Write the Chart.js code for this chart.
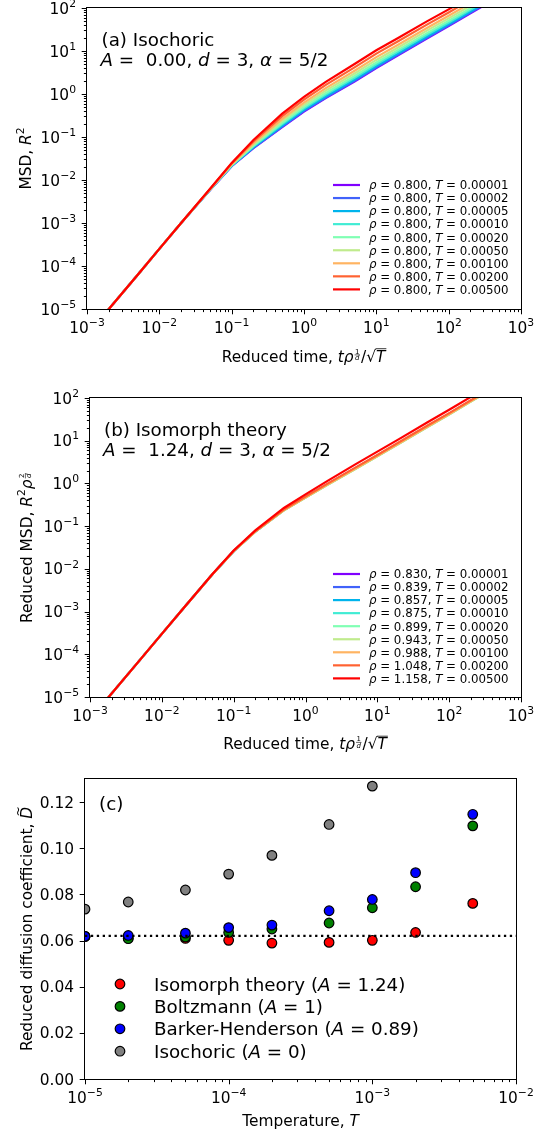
<!DOCTYPE html>
<html>
<head>
<meta charset="utf-8">
<script src="https://cdn.jsdelivr.net/npm/chart.js@4.4.0/dist/chart.umd.min.js"></script>
<style>
  html, body { margin: 0; padding: 0; background: #fff; }
  #wrap { position: relative; width: 549px; height: 1133px; overflow: hidden; }
  canvas { position: absolute; left: 0; }
</style>
</head>
<body>
<div id="wrap">
  <canvas id="panelA" width="549" height="370" style="top:0px"></canvas>
  <canvas id="panelB" width="549" height="390" style="top:370px"></canvas>
  <canvas id="panelC" width="549" height="373" style="top:760px"></canvas>
</div>
<script>
// reduced time grid for panels (a) and (b)
var times = [0.0015, 0.005, 0.01, 0.02, 0.05, 0.1, 0.2, 0.5, 1, 2, 5, 10, 20, 50, 100, 200, 500];
var temps = ['0.00001', '0.00002', '0.00005', '0.00010', '0.00020', '0.00050', '0.00100', '0.00200', '0.00500'];
var rhoA = ['0.800', '0.800', '0.800', '0.800', '0.800', '0.800', '0.800', '0.800', '0.800'];
var rhoB = ['0.830', '0.839', '0.857', '0.875', '0.899', '0.943', '0.988', '1.048', '1.158'];
var colors = ['#8000ff', '#4062fa', '#00b4ec', '#40ecd4', '#80ffb4', '#c0eb8d', '#ffb462', '#ff6232', '#ff0000'];

// (a) isochoric MSD, one row per temperature
var msdIsochoric = [
  [5.6e-6, 6.2e-5, 2.5e-4, 1.0e-3, 5.80e-3, 0.0210, 0.0550, 0.170, 0.390, 0.800, 1.95, 4.00, 7.90, 19.5, 38.0, 75, 185],
  [5.6e-6, 6.2e-5, 2.5e-4, 1.0e-3, 5.82e-3, 0.0212, 0.0560, 0.175, 0.404, 0.831, 2.03, 4.17, 8.23, 20.3, 39.5, 78, 192],
  [5.6e-6, 6.2e-5, 2.5e-4, 1.0e-3, 5.85e-3, 0.0214, 0.0579, 0.185, 0.428, 0.887, 2.18, 4.48, 8.82, 21.7, 42.2, 83, 206],
  [5.6e-6, 6.2e-5, 2.5e-4, 1.0e-3, 5.89e-3, 0.0218, 0.0604, 0.199, 0.462, 0.966, 2.39, 4.92, 9.67, 23.8, 46.1, 91, 224],
  [5.6e-6, 6.2e-5, 2.5e-4, 1.0e-3, 5.93e-3, 0.0222, 0.0631, 0.213, 0.500, 1.053, 2.62, 5.40, 10.6, 26.0, 50.4, 99, 245],
  [5.6e-6, 6.2e-5, 2.5e-4, 1.0e-3, 5.99e-3, 0.0227, 0.0673, 0.237, 0.560, 1.196, 3.00, 6.20, 12.1, 29.7, 57.3, 113, 279],
  [5.6e-6, 6.2e-5, 2.5e-4, 1.0e-3, 6.04e-3, 0.0234, 0.0720, 0.265, 0.633, 1.369, 3.47, 7.20, 14.0, 34.2, 65.9, 130, 321],
  [5.6e-6, 6.2e-5, 2.5e-4, 1.0e-3, 6.13e-3, 0.0242, 0.0785, 0.306, 0.739, 1.628, 4.17, 8.69, 16.9, 41.0, 78.7, 155, 383],
  [5.6e-6, 6.2e-5, 2.5e-4, 1.0e-3, 6.20e-3, 0.0250, 0.0850, 0.350, 0.860, 1.920, 5.00, 10.4, 20.1, 48.8, 93.0, 184, 453]
];
// (b) isomorph-scaled MSD
var msdIsomorph = [
  [6.8e-6, 7.5e-5, 3.0e-4, 1.2e-3, 7.30e-3, 0.0260, 0.0750, 0.240, 0.480, 0.950, 2.30, 4.50, 8.90, 22.0, 43.0, 86.0, 215],
  [6.8e-6, 7.5e-5, 3.0e-4, 1.2e-3, 7.30e-3, 0.0260, 0.0748, 0.239, 0.477, 0.942, 2.28, 4.46, 8.81, 21.8, 42.6, 85.1, 213],
  [6.8e-6, 7.5e-5, 3.0e-4, 1.2e-3, 7.29e-3, 0.0259, 0.0747, 0.238, 0.475, 0.938, 2.27, 4.43, 8.77, 21.7, 42.4, 84.7, 212],
  [6.8e-6, 7.5e-5, 3.0e-4, 1.2e-3, 7.29e-3, 0.0259, 0.0743, 0.236, 0.470, 0.926, 2.23, 4.37, 8.63, 21.3, 41.7, 83.4, 209],
  [6.8e-6, 7.5e-5, 3.0e-4, 1.2e-3, 7.28e-3, 0.0258, 0.0740, 0.235, 0.465, 0.914, 2.20, 4.30, 8.50, 21.0, 41.1, 82.1, 205],
  [6.8e-6, 7.5e-5, 3.0e-4, 1.2e-3, 7.29e-3, 0.0258, 0.0741, 0.235, 0.466, 0.918, 2.21, 4.32, 8.54, 21.1, 41.3, 82.6, 206],
  [6.8e-6, 7.5e-5, 3.0e-4, 1.2e-3, 7.29e-3, 0.0259, 0.0743, 0.236, 0.470, 0.926, 2.23, 4.37, 8.63, 21.3, 41.7, 83.4, 209],
  [6.8e-6, 7.5e-5, 3.0e-4, 1.2e-3, 7.31e-3, 0.0261, 0.0757, 0.244, 0.490, 0.974, 2.37, 4.64, 9.17, 22.7, 44.3, 88.6, 221],
  [6.8e-6, 7.5e-5, 3.0e-4, 1.2e-3, 7.38e-3, 0.0268, 0.0798, 0.266, 0.555, 1.130, 2.83, 5.54, 10.9, 27.1, 52.9, 106, 264]
];

// (c) reduced diffusion coefficient vs temperature
var tempValues = [1e-5, 2e-5, 5e-5, 1e-4, 2e-4, 5e-4, 1e-3, 2e-3, 5e-3];
var dIsomorph = [0.0618, 0.0610, 0.0609, 0.0601, 0.0589, 0.0592, 0.0601, 0.0635, 0.0761];
var dBoltzmann = [0.0618, 0.0608, 0.0615, 0.0635, 0.0650, 0.0676, 0.0742, 0.0833, 0.1097];
var dBarker = [0.0618, 0.0622, 0.0632, 0.0656, 0.0667, 0.0729, 0.0778, 0.0894, 0.1147];
var dIsochoric = [0.0736, 0.0767, 0.0819, 0.0888, 0.0969, 0.1103, 0.1269, null, null];
var dReference = 0.062;

var timeTicks = [1e-3, 1e-2, 1e-1, 1, 10, 100, 1000];
var msdTicks = [1e-5, 1e-4, 1e-3, 1e-2, 1e-1, 1, 10, 100];
var tempTicks = [1e-5, 1e-4, 1e-3, 1e-2];
var dTicks = [0, 0.02, 0.04, 0.06, 0.08, 0.10, 0.12];

var LABEL = 15.4;   // tick and axis label size
var BIG = 18.3;     // panel captions, legend of (c)
var SMALL = 11.8;   // legends of (a), (b)

function powParts(v) {
  var e = Math.round(Math.log10(v));
  return ['10', { t: String(e).replace('-', '\u2212'), sup: true }];
}
function fixedParts(v) { return [v.toFixed(2)]; }

// majors plus 2..9 minors per decade
function logTicks(majors) {
  var out = [];
  majors.forEach(function (m, i) {
    out.push({ value: m, major: true });
    if (i < majors.length - 1) {
      for (var k = 2; k <= 9; k++) out.push({ value: m * k, major: false });
    }
  });
  return out;
}

function fnt(size, it) { return (it ? 'italic ' : '') + size + 'px "DejaVu Sans"'; }

function partWidth(ctx, p, size) {
  if (p.frac) {
    ctx.font = fnt(size * 0.45, true);
    return Math.max(ctx.measureText(p.frac[0]).width, ctx.measureText(p.frac[1]).width) + 3;
  }
  if (p.root) {
    ctx.font = fnt(size, false);
    var w = ctx.measureText('\u221a').width;
    ctx.font = fnt(size, true);
    return w + ctx.measureText(p.root).width + 1;
  }
  ctx.font = fnt(p.sup ? size * 0.7 : size, p.i);
  return ctx.measureText(p.t).width;
}

// draws math-ish text: strings, {t,i}, {t,sup}, {frac:[n,d]}, {root}, {t,tilde}
function drawRich(ctx, parts, x, y, size, align, rotate) {
  parts = parts.map(function (p) { return typeof p === 'string' ? { t: p } : p; });
  var widths = parts.map(function (p) { return partWidth(ctx, p, size); });
  var total = widths.reduce(function (a, b) { return a + b; }, 0);
  ctx.save();
  ctx.translate(x, y);
  if (rotate) ctx.rotate(-Math.PI / 2);
  ctx.fillStyle = '#000';
  ctx.strokeStyle = '#000';
  ctx.textBaseline = 'alphabetic';
  var cx = align === 'center' ? -total / 2 : (align === 'right' ? -total : 0);
  parts.forEach(function (p, k) {
    var w = widths[k];
    ctx.textAlign = 'left';
    if (p.frac) {
      ctx.textAlign = 'center';
      ctx.font = fnt(size * 0.45, false);
      ctx.fillText(p.frac[0], cx + w / 2, -size * 0.5);
      ctx.font = fnt(size * 0.45, true);
      ctx.fillText(p.frac[1], cx + w / 2, -size * 0.08);
      ctx.lineWidth = 0.6;
      ctx.beginPath(); ctx.moveTo(cx + 1, -size * 0.43); ctx.lineTo(cx + w - 1, -size * 0.43); ctx.stroke();
    } else if (p.root) {
      ctx.font = fnt(size, false);
      var rw = ctx.measureText('\u221a').width;
      ctx.fillText('\u221a', cx, 0);
      ctx.font = fnt(size, true);
      ctx.fillText(p.root, cx + rw, 0);
      ctx.lineWidth = 0.8;
      ctx.beginPath(); ctx.moveTo(cx + rw - 0.5, -size * 0.83); ctx.lineTo(cx + w, -size * 0.83); ctx.stroke();
    } else {
      ctx.font = fnt(p.sup ? size * 0.7 : size, p.i);
      ctx.fillText(p.t, cx, p.sup ? -size * 0.45 : 0);
      if (p.tilde) {
        ctx.font = fnt(size * 0.8, false);
        var tw = ctx.measureText('~').width;
        ctx.fillText('~', cx + w * 0.62 - tw / 2, -size * 0.6);
      }
    }
    cx += w;
  });
  ctx.restore();
}

// outward ticks, tick labels and the box around the axes
function drawAxes(chart, xFmt, yFmt) {
  var ctx = chart.ctx, a = chart.chartArea;
  ctx.save();
  ctx.strokeStyle = '#000';
  ctx.lineWidth = 1;
  ['x', 'y'].forEach(function (id) {
    var s = chart.scales[id];
    s.ticks.forEach(function (t) {
      var len = t.major ? 5.3 : 3.1;
      var px = s.getPixelForValue(t.value);
      var p = Math.round(px) + 0.5;
      ctx.beginPath();
      if (id === 'x') { ctx.moveTo(p, a.bottom); ctx.lineTo(p, a.bottom + len); }
      else { ctx.moveTo(a.left, p); ctx.lineTo(a.left - len, p); }
      ctx.stroke();
      if (!t.major) return;
      if (id === 'x') drawRich(ctx, xFmt(t.value), px, a.bottom + 23.5, LABEL, 'center');
      else drawRich(ctx, yFmt(t.value), a.left - 11, px + 5.6, LABEL, 'right');
    });
  });
  ctx.strokeRect(Math.round(a.left) - 0.5, Math.round(a.top) - 0.5, Math.round(a.right - a.left) + 1, Math.round(a.bottom - a.top) + 1);
  ctx.restore();
}

function axis(type, min, max, ticks, size, isY) {
  return {
    type: type, min: min, max: max,
    grid: { display: false, drawTicks: false },
    border: { display: false },
    ticks: { display: false, autoSkip: false },
    afterBuildTicks: function (s) { s.ticks = ticks.map(function (t) { return { value: t.value, major: t.major }; }); },
    afterFit: function (s) {
      if (isY) s.width = size; else s.height = size;
      s.paddingLeft = s.paddingRight = s.paddingTop = s.paddingBottom = 0;
    }
  };
}

function lineLegend(ctx, rhos, y0) {
  temps.forEach(function (t, i) {
    var y = y0 + i * 13.05;
    ctx.save();
    ctx.strokeStyle = colors[i];
    ctx.lineWidth = 2.2;
    ctx.beginPath(); ctx.moveTo(333, y); ctx.lineTo(360, y); ctx.stroke();
    ctx.restore();
    drawRich(ctx, [{ t: '\u03c1', i: true }, ' = ' + rhos[i] + ', ', { t: 'T', i: true }, ' = ' + t], 369, y + 4.3, SMALL, 'left');
  });
}

function msdChart(id, series, box, texts) {
  return new Chart(document.getElementById(id), {
    type: 'line',
    data: {
      datasets: series.map(function (vals, i) {
        return {
          label: 'T = ' + temps[i],
          data: vals.map(function (v, j) { return { x: times[j], y: v }; }),
          borderColor: colors[i], borderWidth: 2.2, pointRadius: 0, tension: 0, fill: false,
          clip: 0, order: series.length - 1 - i
        };
      })
    },
    options: {
      responsive: false, animation: false, devicePixelRatio: 1,
      layout: { padding: { left: 0, right: 549 - box.right, top: box.top, bottom: 0 } },
      plugins: { legend: { display: false }, tooltip: { enabled: false } },
      scales: {
        x: axis('logarithmic', 1e-3, 1e3, logTicks(timeTicks), box.h - box.bottom, false),
        y: axis('logarithmic', 1e-5, 1e2, logTicks(msdTicks), box.left, true)
      }
    },
    plugins: [{ id: 'texts', afterDraw: function (chart) {
      drawAxes(chart, powParts, powParts);
      texts(chart.ctx, chart.chartArea);
    } }]
  });
}

var timeTitle = ['Reduced time, ', { t: 't', i: true }, { t: '\u03c1', i: true }, { frac: ['1', 'd'] }, '/', { root: 'T' }];

// panel (a)
msdChart('panelA', msdIsochoric, { h: 370, left: 87, right: 521, top: 8, bottom: 309 }, function (ctx, a) {
  drawRich(ctx, ['(a) Isochoric'], 101.5, 46, BIG, 'left');
  drawRich(ctx, [{ t: 'A', i: true }, ' =  0.00, ', { t: 'd', i: true }, ' = 3, ', { t: '\u03b1', i: true }, ' = 5/2'], 100.5, 66, BIG, 'left');
  lineLegend(ctx, rhoA, 185);
  drawRich(ctx, timeTitle, (a.left + a.right) / 2, a.bottom + 52.5, LABEL, 'center');
  drawRich(ctx, ['MSD, ', { t: 'R', i: true }, { t: '2', sup: true }], 30.5, (a.top + a.bottom) / 2, LABEL, 'center', true);
});

// panel (b)
msdChart('panelB', msdIsomorph, { h: 390, left: 90, right: 521, top: 28, bottom: 327 }, function (ctx, a) {
  drawRich(ctx, ['(b) Isomorph theory'], 104, 66, BIG, 'left');
  drawRich(ctx, [{ t: 'A', i: true }, ' =  1.24, ', { t: 'd', i: true }, ' = 3, ', { t: '\u03b1', i: true }, ' = 5/2'], 103, 86, BIG, 'left');
  lineLegend(ctx, rhoB, 204);
  drawRich(ctx, timeTitle, (a.left + a.right) / 2, a.bottom + 52, LABEL, 'center');
  drawRich(ctx, ['Reduced MSD, ', { t: 'R', i: true }, { t: '2', sup: true }, { t: '\u03c1', i: true }, { frac: ['2', 'd'] }], 32, (a.top + a.bottom) / 2, LABEL, 'center', true);
});

// panel (c)
var dSeries = [dIsomorph, dBoltzmann, dBarker, dIsochoric];
var dColors = ['#ff0000', '#008000', '#0000ff', '#808080'];
var dLabels = [
  ['Isomorph theory (', { t: 'A', i: true }, ' = 1.24)'],
  ['Boltzmann (', { t: 'A', i: true }, ' = 1)'],
  ['Barker-Henderson (', { t: 'A', i: true }, ' = 0.89)'],
  ['Isochoric (', { t: 'A', i: true }, ' = 0)']
];

var dDatasets = dSeries.map(function (vals, i) {
  return {
    label: 'D' + i,
    data: vals.map(function (v, j) { return { x: tempValues[j], y: v }; }),
    pointRadius: 4.8, pointBorderWidth: 1.2, pointBorderColor: '#000',
    pointBackgroundColor: dColors[i], showLine: false, clip: 0,
    order: dSeries.length - i
  };
});
dDatasets.push({
  type: 'line', label: 'ref',
  data: [{ x: tempTicks[0], y: dReference }, { x: tempTicks[tempTicks.length - 1], y: dReference }],
  borderColor: '#000', borderWidth: 2.2, borderDash: [2.3, 3.6], pointRadius: 0, clip: 0, order: 0
});

new Chart(document.getElementById('panelC'), {
  type: 'scatter',
  data: { datasets: dDatasets },
  options: {
    responsive: false, animation: false, devicePixelRatio: 1,
    layout: { padding: { left: 0, right: 549 - 516, top: 19, bottom: 0 } },
    plugins: { legend: { display: false }, tooltip: { enabled: false } },
    scales: {
      x: axis('logarithmic', 1e-5, 1e-2, logTicks(tempTicks), 373 - 319, false),
      y: axis('linear', 0, 0.13, dTicks.map(function (v) { return { value: v, major: true }; }), 85, true)
    }
  },
  plugins: [{ id: 'texts', afterDraw: function (chart) {
    var ctx = chart.ctx, a = chart.chartArea;
    drawAxes(chart, powParts, fixedParts);
    drawRich(ctx, ['(c)'], 99, 49.5, BIG, 'left');
    dLabels.forEach(function (parts, i) {
      var y = 224 + i * 22.4;
      ctx.save();
      ctx.beginPath();
      ctx.arc(120, y, 4.8, 0, Math.PI * 2);
      ctx.fillStyle = dColors[i];
      ctx.fill();
      ctx.lineWidth = 1.2;
      ctx.strokeStyle = '#000';
      ctx.stroke();
      ctx.restore();
      drawRich(ctx, parts, 154, y + 6.6, BIG, 'left');
    });
    drawRich(ctx, ['Temperature, ', { t: 'T', i: true }], (a.left + a.right) / 2, a.bottom + 46.5, LABEL, 'center');
    drawRich(ctx, ['Reduced diffusion coefficient, ', { t: 'D', i: true, tilde: true }], 31.5, (a.top + a.bottom) / 2, LABEL, 'center', true);
  } }]
});
</script>
</body>
</html>
